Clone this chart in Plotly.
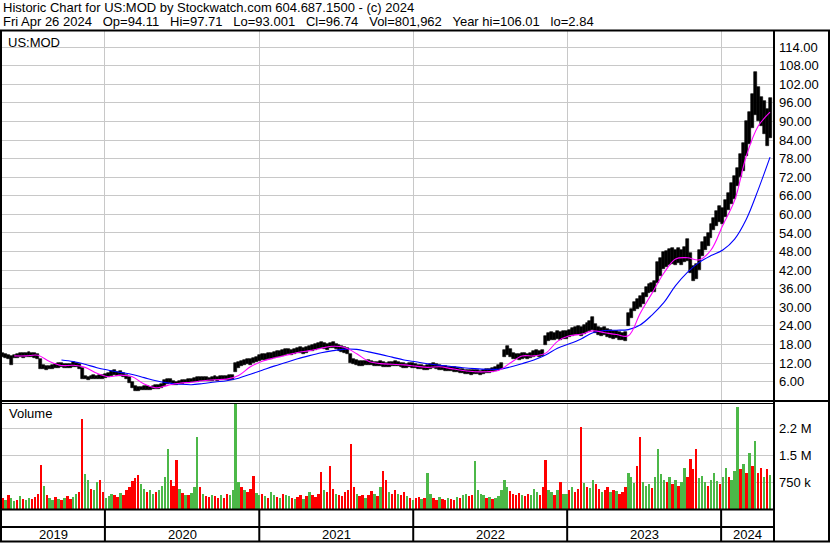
import pandas as pd
import plotly.graph_objects as go

# ---------------- data ----------------
# weekly low / high of the price bars, one list per calendar year
low_2019 = [13.9,13.6,13.2,11.4,13.5,13.7,13.9,13.7,13.8,14.0, 13.9,13.7,13.3,10.2,10.0,9.9,10.1,10.2,10.3,10.4,
            10.6,10.5,10.3,10.4,10.8,10.6,10.2,6.9,6.7,6.6, 6.8,6.9,6.7,6.8,7.0]
high_2019 = [15.3,15.0,14.6,14.4,14.7,15.0,15.3,15.1,15.4,15.5, 15.3,15.2,14.9,13.2,11.3,11.0,11.2,11.4,11.6,11.9,
             12.0,11.8,11.6,11.8,12.2,12.0,11.7,10.4,7.8,7.6, 7.9,8.0,7.8,8.0,8.2]
low_2020 = [7.2,7.6,7.9,8.0,7.8,7.9,7.4,6.8,5.4,3.8, 2.84,3.0,3.2,3.3,3.4,3.3,3.5,3.6,3.7,3.9,
            4.6,5.3,5.4,5.0,4.9,5.1,5.2,5.4,5.6,5.8, 5.9,6.0,6.1,6.2,6.3,6.1,6.2,6.4,6.3,6.5,
            6.6,6.4,6.6,6.6,9.0,10.4,10.9,11.3,11.6,11.5, 11.9,12.3]
high_2020 = [8.4,8.8,9.3,9.7,9.2,9.3,8.7,8.2,7.4,6.0, 4.6,4.2,4.4,4.5,4.6,4.4,4.7,4.8,4.9,5.2,
             6.6,7.0,6.8,6.3,6.0,6.2,6.4,6.5,6.8,7.0, 7.2,7.4,7.5,7.6,7.5,7.3,7.5,7.7,7.6,7.8,
             7.9,7.7,8.0,8.0,11.9,12.4,12.8,13.0,13.3,13.2, 13.7,14.1]
low_2021 = [12.6,12.9,13.0,13.3,13.2,13.6,13.8,14.0,14.2,14.5, 14.8,14.6,14.9,15.1,15.3,15.0,15.4,15.8,16.0,16.3,
            16.6,16.9,16.5,16.2,16.7,16.9,16.4,16.0,15.6,15.2, 14.9,12.0,11.6,11.4,11.2,11.0,11.3,11.5,11.3,11.0,
            10.9,11.1,10.8,10.6,10.8,11.0,11.2,11.0,10.7,10.5, 10.4,10.6]
high_2021 = [14.5,14.8,15.0,15.2,15.1,15.5,15.8,16.0,16.2,16.4, 16.6,16.3,16.6,16.9,17.2,16.9,17.3,17.6,17.8,18.2,
             18.6,18.9,18.5,18.1,18.4,18.8,18.3,17.8,17.6,17.2, 16.9,14.8,13.2,12.9,12.8,12.6,12.7,12.9,12.8,12.5,
             12.4,12.6,12.3,12.1,12.2,12.4,12.6,12.3,12.0,11.9, 11.8,12.0]
low_2022 = [10.5,10.3,10.1,10.0,9.8,9.9,10.2,10.4,10.1,9.9, 9.7,9.5,9.3,9.4,9.2,9.0,8.9,8.7,8.5,8.4,
            8.3,8.5,8.4,8.3,8.6,8.8,8.7,9.0,9.4,9.8, 10.2,13.8,14.5,14.0,13.4,13.2,13.0,13.3,13.5,13.2,
            13.6,13.9,14.2,14.0,14.4,17.8,19.2,19.6,19.4,19.8, 19.5,19.7]
high_2022 = [11.9,11.7,11.5,11.4,11.2,11.5,11.8,11.9,11.6,11.3, 11.1,10.9,10.7,10.8,10.6,10.4,10.2,10.0,9.8,9.7,
             9.6,9.8,9.7,9.5,9.9,10.1,10.0,10.3,10.8,11.4, 12.0,16.2,17.6,16.5,15.4,15.0,14.8,15.1,15.3,15.0,
             15.4,15.8,16.1,16.0,16.3,20.6,21.6,22.0,21.8,22.2, 21.9,22.3]
low_2023 = [19.9,20.3,20.6,20.9,21.2,20.8,21.5,22.0,22.5,22.8, 21.8,21.0,20.6,20.9,20.4,20.1,19.8,20.0,19.6,19.3,
            19.2,24.0,26.5,28.8,29.6,30.2,31.0,33.2,34.6,35.0, 34.8,38.0,40.0,42.4,43.0,43.5,44.0,43.6,44.2,43.8,
            44.5,45.0,41.0,38.4,39.0,42.0,46.5,48.6,49.8,52.5, 55.0,56.4,57.5]
high_2023 = [22.4,22.8,23.2,23.6,24.0,23.8,24.4,25.0,25.6,27.0, 24.6,23.8,23.2,23.5,22.9,22.6,22.3,22.5,22.0,21.8,
             22.0,28.2,29.5,31.6,32.6,33.6,34.7,36.4,37.6,38.0, 38.4,44.5,46.0,47.7,48.2,48.8,49.3,48.6,49.0,48.4,
             49.6,51.9,47.5,43.2,44.0,48.6,51.0,52.6,54.0,56.8, 58.8,61.0,62.7]
low_2024 = [57.0,59.0,61.5,63.5,65.0,69.0,72.0,74.0,79.0,82.7,88.0,92.0,90.0,88.6,86.0,82.0,84.5]
high_2024 = [62.0,64.5,67.0,70.0,72.5,75.0,79.5,83.0,90.0,93.0,99.0,106.0,101.0,98.0,96.5,94.0,97.7]

# weekly volume (thousands of shares) and up/down direction
vol_2019 = [320,250,380,300,220,260,350,280,240,300, 270,330,420,1220,650,380,300,260,340,280,
            250,310,360,290,330,420,480,2500,980,800, 560,520,760,820,470]
dir_2019 = list("dudu" "udud" "uudd" "ddud" "uudu" "dudd" "uudd" "uudu" "udd")
vol_2020 = [300,350,420,380,330,450,400,520,600,780, 850,950,700,560,480,520,430,480,520,640,
            900,1670,820,640,1360,560,450,400,380,450, 620,2000,600,420,360,330,400,350,300,380,
            320,420,400,520,2970,760,620,540,480,560, 930,450]
dir_2020 = list("uuud" "dudd" "dddd" "uudu" "uduu" "uudd" "dudu" "duuu" "dudd" "uddu" "dduu" "uudu" "dddu")
vol_2021 = [380,420,350,300,460,400,330,300,420,380, 350,300,270,330,380,290,350,480,400,340,
            420,1020,520,460,1190,560,420,380,350,470, 520,1800,600,430,360,400,320,380,500,420,
            350,600,1060,800,480,430,520,420,380,460, 360,300]
dir_2021 = list("udud" "uudu" "duud" "uddu" "dudd" "ddud" "ddud" "dddd" "dudd" "uddu" "dudd" "uddu" "ddud")
vol_2022 = [260,300,340,280,320,1000,420,300,260,330, 280,250,300,280,260,340,300,380,420,360,
            400,1340,520,430,380,300,340,280,320,360, 520,800,620,500,420,380,450,400,360,420,
            380,560,480,400,600,1360,540,460,400,520, 760,430]
dir_2022 = list("uddu" "duud" "dudd" "uddu" "duud" "duuu" "udud" "uuuu" "uddd" "dudd" "uuud" "dduu" "dudu")
vol_2023 = [420,520,600,480,560,2290,720,620,580,820, 700,560,480,520,620,460,540,500,420,480,
            620,1000,880,720,1200,2000,760,640,700,580, 900,1680,980,820,760,900,700,820,640,760,
            1150,900,1400,1100,1680,860,920,760,640,820, 1000,780,700]
dir_2023 = list("udud" "ddud" "uudd" "uddu" "dudd" "duuu" "dduu" "uduu" "uudu" "dudu" "uddd" "duuu" "duuu" "d")
vol_2024 = [880,1150,900,820,1050,2830,1100,1250,1000,1550,1200,1900,1000,1150,900,1100,950]
dir_2024 = list("uudu" "uudu" "dudu" "ddud" "u")

# moving averages read every four weeks
fast_ma = [14.3,14.3,14.5,12.5,11.2,11.3,10.6,8.7,7.6,8.1, 7.6,5.2,4.0,4.8,5.5,5.8,6.3,6.6,6.8,8.0,
           10.8,12.6,13.6,14.5,15.4,16.0,16.8,17.4,17.0,15.0, 12.6,11.8,11.6,11.4,11.0,10.6,10.8,10.2,9.6,9.2,
           9.2,9.6,12.0,14.3,14.3,15.2,19.0,20.8,21.3,22.4, 21.8,21.2,20.8,28.0,34.5,41.0,45.6,46.0,45.3,48.5,
           56.5,64.5,79.0,88.5,93.0]
slow_ma = [13.0,12.5,11.6,10.5,9.7,9.0,8.3,7.3,6.3,5.6, 5.2,5.0,5.4,5.9,6.3,7.1,8.4,9.7,11.0,12.2,
           13.4,14.4,15.3,16.0,16.5,16.4,15.6,14.8,13.9,13.0, 12.4,11.8,11.3,10.9,10.5,10.2,10.0,10.0,10.7,11.8,
           13.0,14.6,16.8,18.2,19.8,21.8,22.5,22.6,22.8,24.3, 27.5,31.5,37.0,41.3,44.5,46.7,48.5,52.0,58.5,68.0,
           78.5]

price_ticks = [6, 12, 18, 24, 30, 36, 42, 48, 54, 60, 66, 72, 78, 84, 90, 96, 102, 108, 114]
vol_ticks = [750000, 1500000, 2250000]
vol_tick_text = ["750 k", "1.5 M", "2.2 M"]
years = ["2019", "2020", "2021", "2022", "2023", "2024"]

title1 = "Historic Chart for US:MOD by Stockwatch.com 604.687.1500 - (c) 2024"
title2 = ("Fri Apr 26 2024\u00a0\u00a0 Op=94.11\u00a0\u00a0 Hi=97.71\u00a0\u00a0 Lo=93.001\u00a0\u00a0 "
          "Cl=96.74\u00a0\u00a0 Vol=801,962\u00a0\u00a0 Year hi=106.01\u00a0\u00a0 lo=2.84")

# ---------------- assemble ----------------
lows = low_2019 + low_2020 + low_2021 + low_2022 + low_2023 + low_2024
highs = high_2019 + high_2020 + high_2021 + high_2022 + high_2023 + high_2024
vols = vol_2019 + vol_2020 + vol_2021 + vol_2022 + vol_2023 + vol_2024
dirs = dir_2019 + dir_2020 + dir_2021 + dir_2022 + dir_2023 + dir_2024
assert len(lows) == len(highs) == len(vols) == len(dirs), (len(lows), len(highs), len(vols), len(dirs))

weeks = pd.date_range("2019-05-03", periods=len(lows), freq="7D")
fast_dates = pd.date_range("2019-05-31", periods=len(fast_ma), freq="28D")
slow_dates = pd.date_range("2019-09-20", periods=len(slow_ma), freq="28D")

W, H = 830, 543
def px(x): return x / W
def py(y): return 1 - y / H

FONT = "Liberation Sans, Arial, sans-serif"
GRID = "#c8c8c8"
GREEN = "#4cb848"
RED = "#ff0000"
WEEK_MS = 7 * 24 * 3600 * 1000

x_start, x_end = "2019-05-02", "2024-05-03"
year_bounds = [pd.Timestamp(x_start)] + [pd.Timestamp(f"{y}-01-01") for y in range(2020, 2025)] + [pd.Timestamp(x_end)]

fig = go.Figure()
# price range bars (high-low), drawn as floating bars
fig.add_trace(go.Bar(x=weeks, y=[h - l for h, l in zip(highs, lows)], base=lows,
                     marker=dict(color="black", line=dict(width=0.6, color="black")), width=WEEK_MS * 1.0,
                     xaxis="x", yaxis="y", showlegend=False, hoverinfo="skip"))
fig.add_trace(go.Scatter(x=slow_dates, y=slow_ma, mode="lines", line=dict(color="#0000ff", width=1.1, shape="spline"),
                         xaxis="x", yaxis="y", showlegend=False))
fig.add_trace(go.Scatter(x=fast_dates, y=fast_ma, mode="lines", line=dict(color="#ff00ff", width=1.1, shape="spline"),
                         xaxis="x", yaxis="y", showlegend=False))
fig.add_trace(go.Bar(x=weeks, y=[v * 1000 for v in vols],
                     marker=dict(color=[GREEN if d == "u" else RED for d in dirs], line=dict(width=0)),
                     width=WEEK_MS * 0.8, xaxis="x2", yaxis="y2", showlegend=False))

xcommon = dict(type="date", range=[x_start, x_end], domain=[px(2), px(773)],
               tickvals=[f"{y}-01-01" for y in range(2020, 2025)], showticklabels=False,
               showgrid=True, gridcolor=GRID, gridwidth=1, zeroline=False, showline=False, ticks="")
fig.update_layout(
    width=W, height=H, margin=dict(l=0, r=0, t=0, b=0),
    paper_bgcolor="white", plot_bgcolor="white", bargap=0, barmode="overlay",
    font=dict(family=FONT, size=13, color="black"),
    xaxis=dict(anchor="y", **xcommon),
    xaxis2=dict(anchor="y2", matches="x", **xcommon),
    yaxis=dict(domain=[py(400), py(31)], range=[0.07, 119.2], side="right", anchor="x",
               tickvals=price_ticks, tickformat=".2f", ticks="", ticklabelstandoff=5,
               showgrid=True, gridcolor=GRID, zeroline=False, showline=False,
               tickfont=dict(family=FONT, size=13, color="black")),
    yaxis2=dict(domain=[py(509), py(403)], range=[0, 2.95e6], side="right", anchor="x2",
                tickvals=vol_ticks, ticktext=vol_tick_text, ticks="", ticklabelstandoff=5,
                showgrid=True, gridcolor=GRID, zeroline=False, showline=False,
                tickfont=dict(family=FONT, size=13, color="black")),
)

def hline(y, x0, x1, w=2):
    fig.add_shape(type="line", xref="paper", yref="paper", x0=px(x0), x1=px(x1), y0=py(y), y1=py(y),
                  line=dict(color="black", width=w))
def vline(x, y0, y1, w=2):
    fig.add_shape(type="line", xref="paper", yref="paper", x0=px(x), x1=px(x), y0=py(y0), y1=py(y1),
                  line=dict(color="black", width=w))

hline(30.5, 0, 830)
hline(401, 0, 830)
hline(403.5, 0, 774, 1)
hline(509.5, 0, 774)
hline(527, 0, 774)
hline(541.5, 0, 830)
vline(1, 30, 542)
vline(774, 30, 542)
vline(829, 30, 542)
for b in year_bounds[1:-1]:
    fig.add_shape(type="line", xref="x", yref="paper", x0=b, x1=b, y0=py(509.5), y1=py(541.5),
                  line=dict(color="black", width=2))

def text(x, y, s, size=13):
    fig.add_annotation(text=s, xref="paper", yref="paper", x=px(x), y=py(y), xanchor="left",
                       yanchor="middle", showarrow=False, font=dict(family=FONT, size=size, color="black"))

text(1, 7.5, title1)
text(1, 21.5, title2)
text(6, 42, "US:MOD")
text(7, 413.5, "Volume")

for i, yr in enumerate(years):
    mid = year_bounds[i] + (year_bounds[i + 1] - year_bounds[i]) / 2
    fig.add_annotation(text=yr, xref="x", yref="paper", x=mid, y=py(534.5), xanchor="center",
                       yanchor="middle", showarrow=False, font=dict(family=FONT, size=13, color="black"))

fig.write_html("out.html", config={"displayModeBar": False},
               post_script="document.body.style.margin='0';document.body.style.overflow='hidden';")
